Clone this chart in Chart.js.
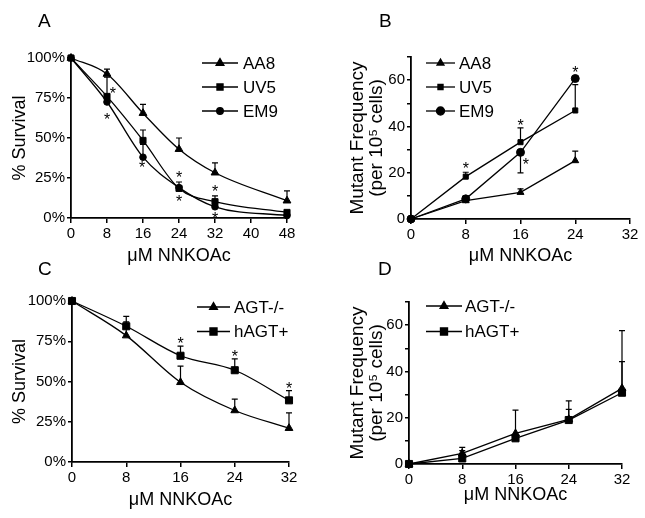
<!DOCTYPE html>
<html>
<head>
<meta charset="utf-8">
<script src="https://cdn.jsdelivr.net/npm/chart.js@4.4.0/dist/chart.umd.min.js"></script>
<style>
  body { margin: 0; background: #fff; width: 645px; height: 518px; position: relative; overflow: hidden; }
  .panel { position: absolute; }
</style>
</head>
<body>
<div class="panel" style="left:0;top:259px;width:322px;height:259px"><canvas id="chartC"></canvas></div>
<div class="panel" style="left:322px;top:259px;width:323px;height:259px"><canvas id="chartD"></canvas></div>
<div class="panel" style="left:0;top:0;width:322px;height:270px"><canvas id="chartA"></canvas></div>
<div class="panel" style="left:322px;top:0;width:323px;height:270px"><canvas id="chartB"></canvas></div>
<script>
// panel A - survival, CHO lines
const dosesA = [0, 8, 16, 24, 32, 48];
const aa8SurvA = [100, 90, 65.5, 43, 28.3, 10.8];
const aa8HiA = [null, 93, 71, 50, 34.4, 17];
const uv5SurvA = [100, 76, 48.5, 18.5, 10.2, 3.5];
const uv5HiA = [null, 88, 55, 22.5, 13.8, null];
const em9SurvA = [100, 72.5, 38, 19, 7, 1.5];
const em9HiA = [null, null, 46, null, null, null];
const starsA = [[9.3, 80], [8, 64], [15.8, 34], [24, 27.5], [24, 12.5], [32, 18.6], [32, 2]];

// panel B - mutant frequency, CHO lines
const dosesB = [0, 8, 16, 24];
const aa8MutB = [0, 7.9, 11.5, 25.2];
const aa8HiB = [null, null, 13, 29.3];
const uv5MutB = [0, 18.3, 33.2, 46.9];
const uv5HiB = [null, 20.2, 39.4, 58.1];
const em9MutB = [0, 8.7, 28.8, 60.7];
const em9HiB = [null, 10, null, null];
const em9LoB = [null, null, 19.9, null];
const starsB = [[8, 23.5], [16, 41.8], [16.8, 25], [24, 65]];

// panel C - survival, AGT
const dosesC = [0, 8, 16, 24, 32];
const agtSurvC = [100, 78.5, 49.5, 32, 21];
const agtHiC = [null, 87, 59.5, 39, 30.5];
const hagtSurvC = [100, 84.3, 66, 57, 38.3];
const hagtHiC = [null, 90.5, 72, 64, 44.3];
const starsC = [[16, 76], [24, 67.7], [32, 48]];

// panel D - mutant frequency, AGT
const dosesD = [0, 8, 16, 24, 32];
const agtMutD = [0, 4.6, 13.2, 19.3, 32.7];
const agtHiD = [null, 7.2, 23.3, 27.3, 57.6];
const hagtMutD = [0, 2.4, 11.1, 19, 30.8];
const hagtHiD = [null, 5.8, null, 23.6, 44.2];

const FONT = '"Liberation Sans", Arial, Helvetica, sans-serif';
Chart.defaults.font.family = FONT;
Chart.defaults.color = '#000';

// error bars, asterisks, legend and panel letter
const extras = {
  id: 'extras',
  beforeDatasetsDraw(chart) {
    const ctx = chart.ctx, xs = chart.scales.x, ys = chart.scales.y;
    ctx.save();
    ctx.strokeStyle = '#000';
    ctx.lineWidth = 1.2;
    chart.data.datasets.forEach(ds => {
      ds.data.forEach((p, i) => {
        [ds.errHi[i], ds.errLo[i]].forEach(e => {
          if (e == null) return;
          const px = xs.getPixelForValue(p.x);
          const y0 = ys.getPixelForValue(p.y), y1 = ys.getPixelForValue(e);
          ctx.beginPath();
          ctx.moveTo(px, y0); ctx.lineTo(px, y1);
          ctx.moveTo(px - 3, y1); ctx.lineTo(px + 3, y1);
          ctx.stroke();
        });
      });
    });
    ctx.restore();
  },
  afterDraw(chart, args, opts) {
    const ctx = chart.ctx, xs = chart.scales.x, ys = chart.scales.y;
    ctx.save();
    ctx.fillStyle = '#000';
    ctx.strokeStyle = '#000';
    ctx.textAlign = 'center';
    ctx.textBaseline = 'alphabetic';
    ctx.font = '16px ' + FONT;
    (opts.stars || []).forEach(s => {
      ctx.fillText('*', xs.getPixelForValue(s[0]), ys.getPixelForValue(s[1]) + 9);
    });
    const lg = opts.legend;
    ctx.font = '17px ' + FONT;
    ctx.textAlign = 'left';
    ctx.textBaseline = 'middle';
    chart.data.datasets.forEach((ds, i) => {
      const y = lg.y + i * lg.dy;
      ctx.lineWidth = 1.3;
      ctx.beginPath();
      ctx.moveTo(lg.x, y); ctx.lineTo(lg.x + lg.len, y);
      ctx.stroke();
      Chart.helpers.drawPoint(ctx, { pointStyle: ds.pointStyle, radius: ds.pointRadius, borderWidth: 1, rotation: 0 }, lg.x + lg.len / 2, y);
      ctx.fillText(ds.label, lg.x + lg.len + lg.gap, y + 1);
    });
    ctx.font = '19px ' + FONT;
    ctx.textBaseline = 'alphabetic';
    ctx.fillText(opts.tag.text, opts.tag.x, opts.tag.y);
    ctx.restore();
  }
};

function makeChart(id, cfg) {
  const datasets = cfg.series.map(s => ({
    label: s.label,
    data: cfg.doses.map((d, i) => ({ x: d, y: s.values[i] })),
    errHi: s.hi || [],
    errLo: s.lo || [],
    borderColor: '#000',
    backgroundColor: '#000',
    borderWidth: 1.3,
    pointStyle: s.style,
    pointRadius: s.radius,
    pointBorderWidth: 1,
    pointBackgroundColor: '#000',
    pointBorderColor: '#000',
    cubicInterpolationMode: cfg.smooth ? 'monotone' : 'default',
    tension: 0,
    clip: false
  }));

  return new Chart(document.getElementById(id), {
    type: 'line',
    data: { datasets },
    options: {
      responsive: true,
      maintainAspectRatio: false,
      animation: false,
      layout: { padding: cfg.pad },
      plugins: {
        legend: { display: false },
        tooltip: { enabled: false },
        extras: { stars: cfg.stars, legend: cfg.legend, tag: cfg.tag }
      },
      scales: {
        x: {
          type: 'linear',
          min: 0,
          max: cfg.xMax,
          afterFit: s => { s.height = cfg.xH; },
          ticks: { stepSize: 8, autoSkip: false, maxRotation: 0, padding: 2, font: { size: 15 } },
          grid: { drawOnChartArea: false, tickLength: 5, color: '#000', lineWidth: 1.5 },
          border: { color: '#000', width: 1.8 },
          title: { display: true, text: 'μM NNKOAc', font: { size: 18 }, padding: { top: 0, bottom: cfg.xTitlePad } }
        },
        y: {
          min: 0,
          max: cfg.yMax,
          afterFit: s => { s.width = cfg.yW; },
          ticks: { stepSize: cfg.yStep, autoSkip: false, padding: 2, font: { size: 15 }, callback: cfg.yFmt },
          grid: { drawOnChartArea: false, tickLength: 4, color: '#000', lineWidth: 1.5 },
          border: { color: '#000', width: 1.8 },
          title: { display: true, text: cfg.yTitle, font: { size: cfg.yTitleSize, lineHeight: cfg.yTitleLH }, padding: { top: cfg.yTitlePad, bottom: 0 } }
        }
      }
    },
    plugins: [extras]
  });
}

const pct = v => v + '%';
const every20 = v => (v % 20 === 0 && v < 70) ? v : '';

makeChart('chartA', {
  doses: dosesA, xMax: 48, yMax: 100, yStep: 25, yFmt: pct, smooth: true,
  series: [
    { label: 'AA8', values: aa8SurvA, hi: aa8HiA, style: 'triangle', radius: 4.5 },
    { label: 'UV5', values: uv5SurvA, hi: uv5HiA, style: 'rect', radius: 4.3 },
    { label: 'EM9', values: em9SurvA, hi: em9HiA, style: 'circle', radius: 3.3 }
  ],
  stars: starsA,
  pad: { left: 0, top: 58, right: 35, bottom: 0 }, yW: 71, xH: 52, xTitlePad: 3,
  yTitle: '% Survival', yTitleSize: 18, yTitleLH: 1.2, yTitlePad: 9,
  legend: { x: 202, y: 63, dy: 24, len: 36, gap: 5 },
  tag: { text: 'A', x: 38, y: 27 }
});

makeChart('chartB', {
  doses: dosesB, xMax: 32, yMax: 70, yStep: 10, yFmt: every20, smooth: false,
  series: [
    { label: 'AA8', values: aa8MutB, hi: aa8HiB, style: 'triangle', radius: 4 },
    { label: 'UV5', values: uv5MutB, hi: uv5HiB, style: 'rect', radius: 3.6 },
    { label: 'EM9', values: em9MutB, hi: em9HiB, lo: em9LoB, style: 'circle', radius: 4 }
  ],
  stars: starsB,
  pad: { left: 0, top: 57, right: 15, bottom: 0 }, yW: 89, xH: 51, xTitlePad: 3,
  yTitle: ['Mutant Frequency', '(per 10⁵ cells)'], yTitleSize: 19, yTitleLH: 1.0, yTitlePad: 26,
  legend: { x: 104, y: 63, dy: 24, len: 29, gap: 4 },
  tag: { text: 'B', x: 57, y: 27 }
});

makeChart('chartC', {
  doses: dosesC, xMax: 32, yMax: 100, yStep: 25, yFmt: pct, smooth: true,
  series: [
    { label: 'AGT-/-', values: agtSurvC, hi: agtHiC, style: 'triangle', radius: 4.5 },
    { label: 'hAGT+', values: hagtSurvC, hi: hagtHiC, style: 'rect', radius: 5 }
  ],
  stars: starsC,
  pad: { left: 0, top: 42, right: 33, bottom: 0 }, yW: 72, xH: 56, xTitlePad: 7,
  yTitle: '% Survival', yTitleSize: 18, yTitleLH: 1.2, yTitlePad: 9,
  legend: { x: 197, y: 48, dy: 24.5, len: 33, gap: 4 },
  tag: { text: 'C', x: 38, y: 16 }
});

makeChart('chartD', {
  doses: dosesD, xMax: 32, yMax: 70, yStep: 10, yFmt: every20, smooth: false,
  series: [
    { label: 'AGT-/-', values: agtMutD, hi: agtHiD, style: 'triangle', radius: 4.5 },
    { label: 'hAGT+', values: hagtMutD, hi: hagtHiD, style: 'rect', radius: 5 }
  ],
  stars: [],
  pad: { left: 0, top: 43, right: 23, bottom: 0 }, yW: 87, xH: 54, xTitlePad: 12,
  yTitle: ['Mutant Frequency', '(per 10⁵ cells)'], yTitleSize: 19, yTitleLH: 1.0, yTitlePad: 26,
  legend: { x: 104, y: 47, dy: 25.5, len: 36, gap: 3 },
  tag: { text: 'D', x: 56, y: 16 }
});
</script>
</body>
</html>
